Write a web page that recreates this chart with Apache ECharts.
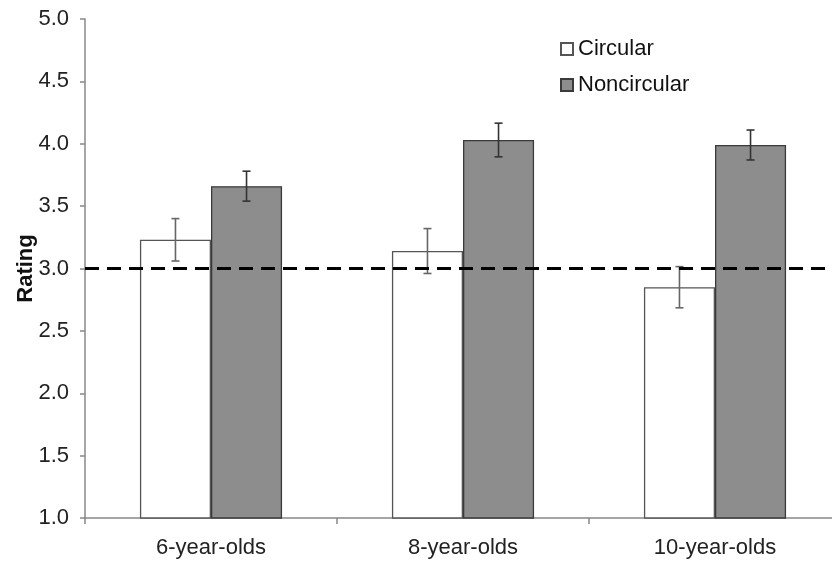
<!DOCTYPE html>
<html>
<head>
<meta charset="utf-8">
<script src="https://cdn.jsdelivr.net/npm/echarts@6/dist/echarts.min.js"></script>
<style>html,body{margin:0;padding:0;background:#fff}#c{width:832px;height:561px}</style>
</head>
<body>
<div id="c"></div>
<script>
const categories = ['6-year-olds', '8-year-olds', '10-year-olds'];
const circularMean = [3.23, 3.14, 2.85];
const circularErr = [0.17, 0.18, 0.165];
const noncircularMean = [3.66, 4.03, 3.99];
const noncircularErr = [0.12, 0.135, 0.12];
const yTicks = [1.0, 1.5, 2.0, 2.5, 3.0, 3.5, 4.0, 4.5, 5.0];
const referenceLevel = 3.0;

const FONT = '"Liberation Sans", Arial, sans-serif';
const BARW = 0.282;

function errSeries(name, means, errs, side, color) {
  return {
    type: 'custom',
    name: name + ' error',
    z: 5,
    data: means.map((m, i) => [i, m, errs[i]]),
    renderItem: function (params, api) {
      const i = api.value(0), m = api.value(1), e = api.value(2);
      const band = api.size([1, 0])[0];
      const c = api.coord([i, m]);
      const x = c[0] + side * band * BARW / 2;
      const yt = api.coord([i, m + e])[1];
      const yb = api.coord([i, m - e])[1];
      const cap = 4;
      const st = { stroke: color, lineWidth: 1.6 };
      return {
        type: 'group',
        children: [
          { type: 'line', shape: { x1: x, y1: yt, x2: x, y2: yb }, style: st },
          { type: 'line', shape: { x1: x - cap, y1: yt, x2: x + cap, y2: yt }, style: st },
          { type: 'line', shape: { x1: x - cap, y1: yb, x2: x + cap, y2: yb }, style: st }
        ]
      };
    },
    tooltip: { show: false }
  };
}

const chart = echarts.init(document.getElementById('c'));
chart.setOption({
  animation: false,
  backgroundColor: '#fff',
  textStyle: { fontFamily: FONT },
  grid: { left: 85, top: 19, bottom: 43, width: 756, containLabel: false, outerBoundsMode: 'none' },
  legend: {
    data: ['Circular', 'Noncircular'],
    orient: 'vertical',
    left: 555,
    top: 33,
    icon: 'rect',
    itemWidth: 12,
    itemHeight: 12,
    itemGap: 14,
    textStyle: { fontSize: 22, color: '#111', fontFamily: FONT }
  },
  xAxis: {
    type: 'category',
    data: categories,
    axisLine: { lineStyle: { color: '#888', width: 1.5 } },
    axisTick: { show: true, length: 6, lineStyle: { color: '#888', width: 1.5 } },
    axisLabel: { fontSize: 22, color: '#222', margin: 19, fontFamily: FONT }
  },
  yAxis: {
    type: 'value',
    min: 1.0,
    max: 5.0,
    interval: 0.5,
    name: 'Rating',
    nameLocation: 'middle',
    nameGap: 48,
    nameMoveOverlap: false,
    nameTextStyle: { fontSize: 22, fontWeight: 'bold', color: '#111', fontFamily: FONT },
    axisLine: { show: true, lineStyle: { color: '#888', width: 1.5 } },
    axisTick: { show: true, length: 5, lineStyle: { color: '#888', width: 1.5 } },
    splitLine: { show: false },
    axisLabel: {
      fontSize: 22, color: '#222', margin: 16, fontFamily: FONT,
      formatter: v => yTicks.includes(v) ? v.toFixed(1) : ''
    }
  },
  series: [
    {
      name: 'Circular',
      type: 'bar',
      data: circularMean,
      barWidth: (BARW * 100) + '%',
      barGap: '0%',
      itemStyle: { color: '#ffffff', borderColor: '#555', borderWidth: 1.3 }
    },
    {
      name: 'Noncircular',
      type: 'bar',
      data: noncircularMean,
      barWidth: (BARW * 100) + '%',
      barGap: '0%',
      itemStyle: { color: '#8d8d8d', borderColor: '#3a3a3a', borderWidth: 1.3 }
    },
    errSeries('Circular', circularMean, circularErr, -1, '#666'),
    Object.assign(errSeries('Noncircular', noncircularMean, noncircularErr, 1, '#333'), {
      markLine: {
        silent: true,
        symbol: 'none',
        label: { show: false },
        lineStyle: { color: '#000', width: 3, type: [14, 8] },
        data: [{ yAxis: referenceLevel }],
        z: 10
      }
    })
  ]
});
</script>
</body>
</html>
